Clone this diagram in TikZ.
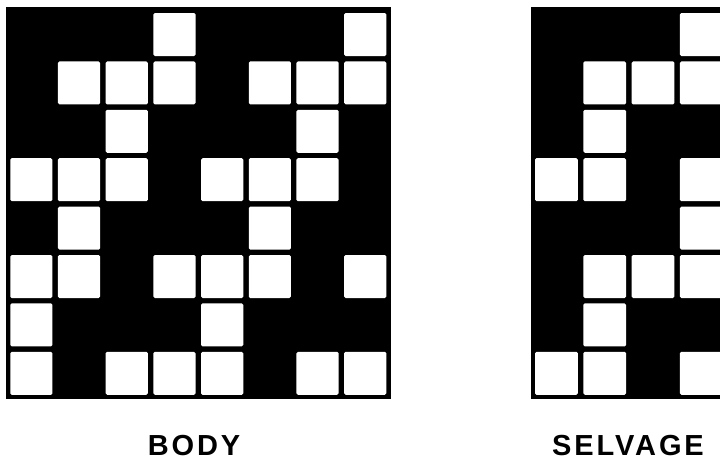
\documentclass[tikz,border=0pt]{standalone}
\usepackage{fontspec}
\newfontfamily\capsfont[LetterSpace=10]{Liberation Sans}
\usetikzlibrary{positioning}
\tikzset{
  frame/.style={fill=black},
  cell/.style={fill=white, rounded corners=1.5pt},
  lbl/.style={font=\capsfont\bfseries\fontsize{29}{32}\selectfont, anchor=base, inner sep=0pt},
}
\begin{document}
\begin{tikzpicture}[x=1pt,y=-1pt]
\useasboundingbox (0,0) rectangle (720,461);
\clip (0,0) rectangle (720,461);
% body
\fill[frame] (6,7) rectangle (391,399);
\foreach \r/\cs in {1/{4,8}, 2/{2,3,4,6,7,8}, 3/{3,7}, 4/{1,2,3,5,6,7}, 5/{2,6}, 6/{1,2,4,5,6,8}, 7/{1,5}, 8/{1,3,4,5,7,8}}
  \foreach \c in \cs
    \fill[cell] ({10.25+(\c-1)*47.7},{13+(\r-1)*48.4}) rectangle ++(42.2,43);
% selvage
\fill[frame] (531,7) rectangle (730,399);
\foreach \r/\cs in {1/{4}, 2/{2,3,4}, 3/{2}, 4/{1,2,4}, 5/{4}, 6/{2,3,4}, 7/{2}, 8/{1,2,4}}
  \foreach \c in \cs
    \fill[cell] ({535+(\c-1)*48.3},{13+(\r-1)*48.4}) rectangle ++(42.8,43);
% labels
\node[lbl] (body) at (194,455) {BODY};
\node[lbl] (selvage) at (628,455) {SELVAGE};
\end{tikzpicture}
\end{document}
